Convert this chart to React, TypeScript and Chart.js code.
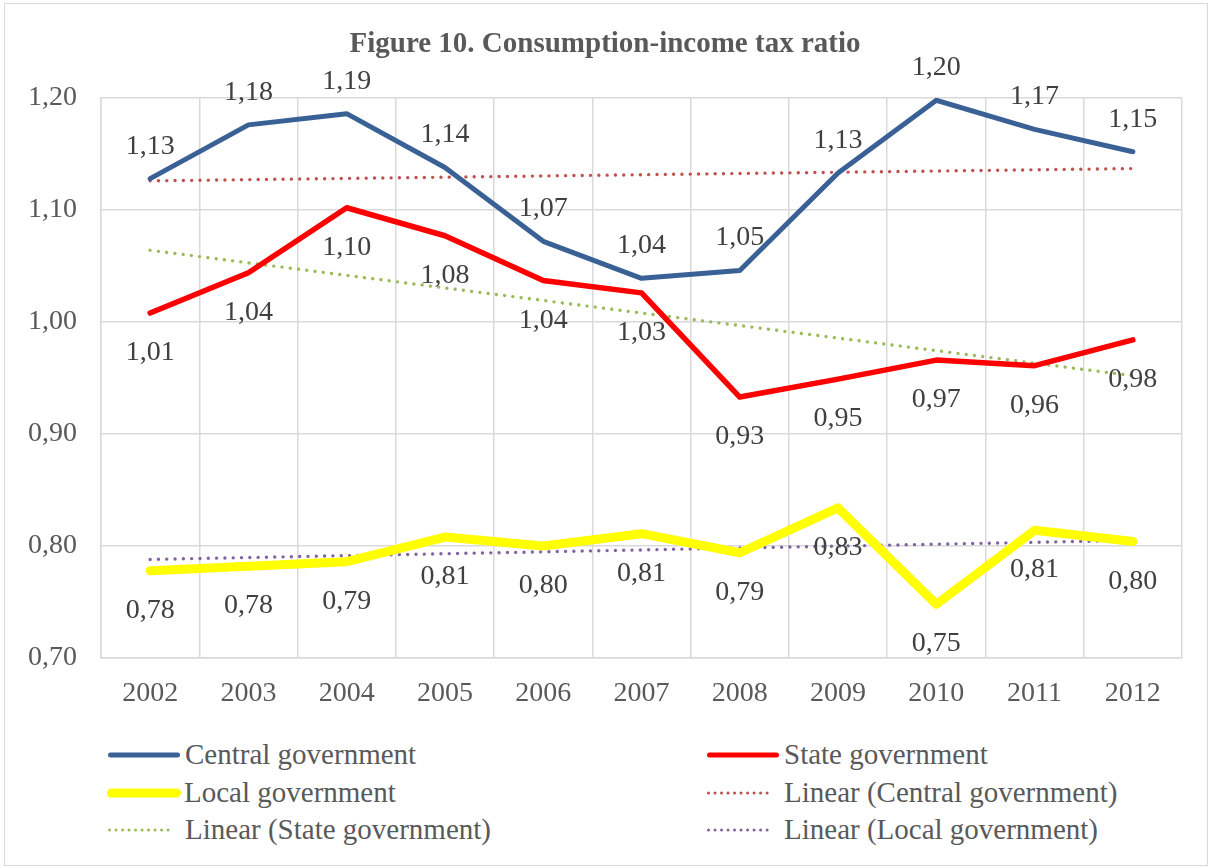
import React, { useEffect, useRef } from "react";
import { Chart, registerables } from "chart.js";

Chart.register(...registerables);

const categories = ["2002", "2003", "2004", "2005", "2006", "2007", "2008", "2009", "2010", "2011", "2012"];
const centralGov = [1.128, 1.176, 1.186, 1.138, 1.072, 1.039, 1.046, 1.133, 1.198, 1.172, 1.152];
const stateGov = [1.008, 1.044, 1.102, 1.077, 1.037, 1.026, 0.933, 0.949, 0.966, 0.961, 0.984];
const localGov = [0.778, 0.782, 0.786, 0.808, 0.8, 0.811, 0.794, 0.834, 0.748, 0.814, 0.804];
// Linear trend lines: start (2002) and end (2012) values
const trendCentral = [1.126, null, null, null, null, null, null, null, null, null, 1.137];
const trendState = [1.064, null, null, null, null, null, null, null, null, null, 0.952];
const trendLocal = [0.788, null, null, null, null, null, null, null, null, null, 0.805];
const yTicks = [0.7, 0.8, 0.9, 1.0, 1.1, 1.2];

const FONT = "'Liberation Serif', 'Times New Roman', serif";
const TEXT = "#595959";
const LABEL = "#404040";
const GRID = "#D9D9D9";

const fmt = (v: number) => v.toFixed(2).replace(".", ",");

const labelPlugin = {
  id: "pointLabels",
  afterDatasetsDraw(chart: any) {
    const ctx = chart.ctx;
    ctx.save();
    ctx.font = `28px ${FONT}`;
    ctx.fillStyle = LABEL;
    ctx.textAlign = "center";
    ctx.textBaseline = "alphabetic";
    chart.data.datasets.forEach((ds: any, i: number) => {
      if (!ds.labelPos) return;
      const meta = chart.getDatasetMeta(i);
      meta.data.forEach((pt: any, j: number) => {
        const v = ds.data[j];
        if (v == null) return;
        const y = ds.labelPos === "above" ? pt.y - 25 : pt.y + 47;
        ctx.fillText(fmt(v), pt.x, y);
      });
    });
    ctx.restore();
  },
};

type LegendItem = { label: string; color: string; width: number; dotted: boolean; x: number; y: number; len: number };
const legendItems: LegendItem[] = [
  { label: "Central government", color: "#3A6195", width: 5, dotted: false, x: 108, y: 755, len: 72 },
  { label: "State government", color: "#FF0000", width: 5, dotted: false, x: 707, y: 755, len: 72 },
  { label: "Local government", color: "#FFFF00", width: 9, dotted: false, x: 107, y: 793, len: 74 },
  { label: "Linear (Central government)", color: "#C0504D", width: 3, dotted: true, x: 707, y: 793, len: 63 },
  { label: "Linear (State government)", color: "#9BBB59", width: 3, dotted: true, x: 108, y: 830, len: 63 },
  { label: "Linear (Local government)", color: "#8064A2", width: 3, dotted: true, x: 707, y: 830, len: 63 },
];

export default function App() {
  const canvasRef = useRef<HTMLCanvasElement | null>(null);

  useEffect(() => {
    document.body.style.margin = "0";
    const canvas = canvasRef.current;
    if (!canvas) return;
    const trend = (label: string, data: (number | null)[], color: string) =>
      ({
        label,
        data,
        borderColor: color,
        borderWidth: 3.4,
        borderDash: [0.01, 8.3],
        borderCapStyle: "round",
        pointRadius: 0,
        spanGaps: true,
      } as any);
    const chart = new Chart(canvas, {
      type: "line",
      data: {
        labels: categories,
        datasets: [
          {
            label: "Central government",
            data: centralGov,
            borderColor: "#3A6195",
            borderWidth: 5,
            pointRadius: 0,
            borderJoinStyle: "round",
            borderCapStyle: "round",
            labelPos: "above",
          } as any,
          {
            label: "State government",
            data: stateGov,
            borderColor: "#FF0000",
            borderWidth: 5.5,
            pointRadius: 0,
            borderJoinStyle: "round",
            borderCapStyle: "round",
            labelPos: "below",
          } as any,
          {
            label: "Local government",
            data: localGov,
            borderColor: "#FFFF00",
            borderWidth: 9,
            pointRadius: 0,
            borderJoinStyle: "round",
            borderCapStyle: "round",
            labelPos: "below",
          } as any,
          trend("Linear (Central government)", trendCentral, "#C0504D"),
          trend("Linear (State government)", trendState, "#9BBB59"),
          trend("Linear (Local government)", trendLocal, "#8064A2"),
        ],
      },
      options: {
        animation: false,
        responsive: false,
        maintainAspectRatio: false,
        layout: { padding: { left: 0, right: 28, top: 98, bottom: 0 } },
        plugins: {
          legend: { display: false },
          title: { display: false },
          tooltip: { enabled: false },
        },
        scales: {
          x: {
            offset: true,
            grid: { offset: true, color: GRID, lineWidth: 1.5, drawTicks: false },
            border: { color: GRID, width: 1.5 },
            ticks: { color: TEXT, font: { family: FONT, size: 28 }, padding: 19, maxRotation: 0 },
            afterFit: (s: any) => {
              s.height = 62;
            },
          },
          y: {
            min: 0.7,
            max: 1.2,
            afterBuildTicks: (s: any) => {
              s.ticks = yTicks.map((v) => ({ value: v }));
            },
            grid: { color: GRID, lineWidth: 1.5, drawTicks: false },
            border: { color: GRID, width: 1.5 },
            ticks: {
              color: TEXT,
              font: { family: FONT, size: 28 },
              padding: 24,
              callback: (v: any) => fmt(Number(v)),
            },
            afterFit: (s: any) => {
              s.width = 101;
            },
          },
        },
      },
      plugins: [labelPlugin],
    });
    return () => chart.destroy();
  }, []);

  return (
    <div style={{ position: "relative", width: 1210, height: 867, background: "#fff", fontFamily: FONT }}>
      <div
        style={{
          position: "absolute",
          left: 4,
          top: 3,
          width: 1202,
          height: 861,
          border: `1px solid ${GRID}`,
        }}
      />
      <canvas ref={canvasRef} width={1210} height={720} style={{ position: "absolute", left: 0, top: 0, width: 1210, height: 720 }} />
      <div
        style={{
          position: "absolute",
          left: 0,
          top: 24,
          width: 1210,
          textAlign: "center",
          fontWeight: "bold",
          fontSize: 29,
          lineHeight: "36px",
          color: TEXT,
        }}
      >
        Figure 10. Consumption-income tax ratio
      </div>
      {legendItems.map((it) => (
        <div key={it.label}>
          <svg
            width={it.len + 12}
            height={16}
            style={{ position: "absolute", left: it.x - 6, top: it.y - 8 }}
          >
            <line
              x1={6 + it.width / 2}
              y1={8}
              x2={6 + it.len - it.width / 2}
              y2={8}
              stroke={it.color}
              strokeWidth={it.width}
              strokeLinecap="round"
              strokeDasharray={it.dotted ? "0.01 6.5" : undefined}
            />
          </svg>
          <div
            style={{
              position: "absolute",
              left: it.dotted ? it.x + 77 : it.x + 77,
              top: it.y - 18,
              fontSize: 29,
              lineHeight: "34px",
              color: TEXT,
              whiteSpace: "nowrap",
            }}
          >
            {it.label}
          </div>
        </div>
      ))}
    </div>
  );
}
